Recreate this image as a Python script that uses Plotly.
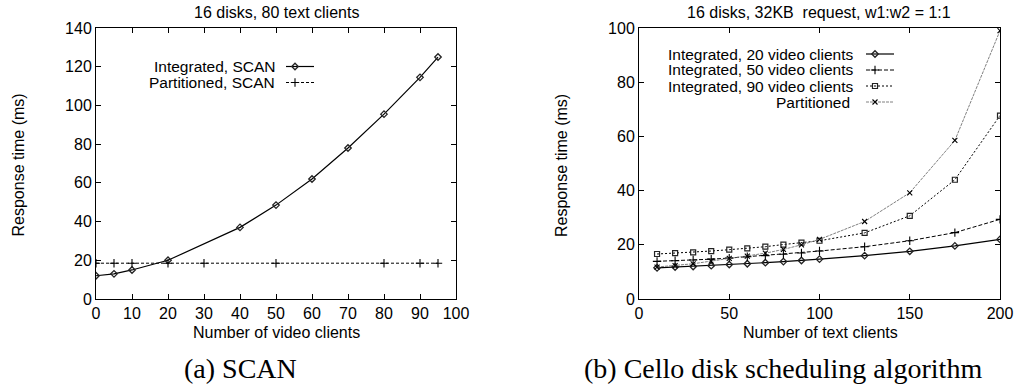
import plotly.graph_objects as go

# ---- Data: panel (a) SCAN ----
video_clients_int = [0, 5, 10, 20, 40, 50, 60, 70, 80, 90, 95]
integrated_scan = [12, 13, 15, 20, 37, 48.5, 62, 78, 95.5, 114.5, 125]
video_clients_part = [0, 5, 10, 20, 30, 50, 80, 90, 95]
partitioned_scan = [18.5, 18.5, 18.5, 18.5, 18.5, 18.5, 18.5, 18.5, 18.5]

# ---- Data: panel (b) Cello ----
text_clients = [10, 20, 30, 40, 50, 60, 70, 80, 90, 100, 125, 150, 175, 200]
int_20_video = [11.5, 11.8, 12.0, 12.3, 12.7, 13.0, 13.4, 13.8, 14.2, 14.7, 16.0, 17.6, 19.6, 22.0]
int_50_video = [13.9, 14.1, 14.4, 14.7, 15.1, 15.6, 16.0, 16.5, 17.0, 17.7, 19.3, 21.5, 24.5, 29.4]
int_90_video = [16.6, 16.9, 17.2, 17.7, 18.2, 18.7, 19.3, 20.1, 20.8, 21.5, 24.4, 30.7, 44.0, 67.7]
partitioned_cello = [11.8, 12.3, 13.0, 14.0, 15.0, 15.8, 16.9, 18.3, 20.0, 22.0, 28.6, 39.2, 58.5, 99.0]

left_ticks_x = list(range(0, 101, 10))
left_ticks_y = list(range(0, 141, 20))
right_ticks_x = [0, 50, 100, 150, 200]
right_ticks_y = [0, 20, 40, 60, 80, 100]

W, H = 1015, 386
SANS = "Liberation Sans, Arial, sans-serif"
SERIF = "Liberation Serif, Times New Roman, serif"

def px_x(p):
    return p / W

def px_y(p):
    return 1 - p / H

# series styles
left_series = [
    ("Integrated, SCAN", video_clients_int, integrated_scan,
     dict(color="black", width=1.2, dash="solid"),
     dict(symbol="diamond-open", size=5, color="#222222", line=dict(width=1.3))),
    ("Partitioned, SCAN", video_clients_part, partitioned_scan,
     dict(color="black", width=1, dash="3px,2px"),
     dict(symbol="cross-thin-open", size=6, color="black", line=dict(width=1.1))),
]
right_series = [
    ("Integrated, 20 video clients", text_clients, int_20_video,
     dict(color="black", width=1.2, dash="solid"),
     dict(symbol="diamond-open", size=5, color="#222222", line=dict(width=1.3))),
    ("Integrated, 50 video clients", text_clients, int_50_video,
     dict(color="black", width=1, dash="4px,2px"),
     dict(symbol="cross-thin-open", size=6, color="black", line=dict(width=1.1))),
    ("Integrated, 90 video clients", text_clients, int_90_video,
     dict(color="black", width=1, dash="2px,2px"),
     dict(symbol="square-open", size=5, color="#222222", line=dict(width=1.2))),
    ("Partitioned", text_clients, partitioned_cello,
     dict(color="#808080", width=1, dash="3px,1px"),
     dict(symbol="x-thin-open", size=5, color="black", line=dict(width=1.1))),
]

fig = go.Figure()

for name, xs, ys, ln, mk in left_series:
    fig.add_trace(go.Scatter(x=xs, y=ys, mode="lines+markers", name=name,
                             line=ln, marker=mk, xaxis="x", yaxis="y",
                             showlegend=False))
for name, xs, ys, ln, mk in right_series:
    fig.add_trace(go.Scatter(x=xs, y=ys, mode="lines+markers", name=name,
                             line=ln, marker=mk, xaxis="x2", yaxis="y2",
                             showlegend=False))

annotations = []
left_dom_x = [px_x(96), px_x(456)]
right_dom_x = [px_x(639), px_x(1000)]
dom_y = [px_y(299), px_y(28)]
LEG_FONT = 15.5

def leg_rows(series, text_right, rows_y, sample_x0, sample_x1, marker_x, xa, ya, dom_x):
    x0p, x1p = dom_x[0] * W, dom_x[1] * W
    def fx(p):
        return (p - x0p) / (x1p - x0p)
    def fy(p):
        return (299 - p) / (299 - 28)
    for i, (name, xs, ys, ln, mk) in enumerate(series):
        yp = rows_y[i]
        annotations.append(dict(text=name, x=text_right[i] / W, y=px_y(yp), xref="paper", yref="paper",
                                xanchor="right", yanchor="middle", showarrow=False,
                                font=dict(family=SANS, size=LEG_FONT, color="black")))
        fig.add_trace(go.Scatter(x=[fx(sample_x0), fx(sample_x1)], y=[fy(yp), fy(yp)],
                                 mode="lines", line=ln, xaxis=xa, yaxis=ya,
                                 showlegend=False, hoverinfo="skip"))
        fig.add_trace(go.Scatter(x=[fx(marker_x)], y=[fy(yp)], mode="markers",
                                 marker=mk, xaxis=xa, yaxis=ya,
                                 showlegend=False, hoverinfo="skip"))

leg_rows(left_series, [277, 277], [66.5, 82.5], 286, 314, 295, "x3", "y3", left_dom_x)
leg_rows(right_series, [856, 856, 856, 852], [54, 70, 86, 102], 866, 894, 875, "x4", "y4", right_dom_x)

def text_ann(text, x, y, size, family=SANS, angle=0):
    annotations.append(dict(text=text, x=px_x(x), y=px_y(y), xref="paper", yref="paper",
                            xanchor="center", yanchor="middle", showarrow=False, textangle=angle,
                            font=dict(family=family, size=size, color="black")))

text_ann("16 disks, 80 text clients", 276, 12, 16)
text_ann("16 disks, 32KB&nbsp;&nbsp;request, w1:w2 = 1:1", 819, 12, 16)
text_ann("Number of video clients", 276, 332, 16)
text_ann("Number of text clients", 820, 332, 16)
text_ann("Response time (ms)", 17.5, 165, 16, angle=-90)
text_ann("Response time (ms)", 561, 166, 16, angle=-90)
text_ann("(a) SCAN", 240, 368, 28, family=SERIF)
text_ann("(b) Cello disk scheduling algorithm", 783, 368, 28, family=SERIF)

axis_common = dict(showgrid=False, zeroline=False, showline=True, linecolor="black",
                   linewidth=1, mirror="ticks", ticks="inside", ticklen=5,
                   tickcolor="black", tickwidth=1, automargin=False,
                   tickfont=dict(family=SANS, size=16, color="black"))

fig.update_layout(
    width=W, height=H,
    margin=dict(l=0, r=0, t=0, b=0, pad=0, autoexpand=False),
    paper_bgcolor="white", plot_bgcolor="white",
    showlegend=False,
    xaxis=dict(domain=left_dom_x, range=[0, 100], tickvals=left_ticks_x, anchor="y", **axis_common),
    yaxis=dict(domain=dom_y, range=[0, 140], tickvals=left_ticks_y, anchor="x", **axis_common),
    xaxis2=dict(domain=right_dom_x, range=[0, 200], tickvals=right_ticks_x, anchor="y2", **axis_common),
    yaxis2=dict(domain=dom_y, range=[0, 100], tickvals=right_ticks_y, anchor="x2", **axis_common),
    xaxis3=dict(overlaying="x", range=[0, 1], visible=False, anchor="y3"),
    yaxis3=dict(overlaying="y", range=[0, 1], visible=False, anchor="x3"),
    xaxis4=dict(overlaying="x2", range=[0, 1], visible=False, anchor="y4"),
    yaxis4=dict(overlaying="y2", range=[0, 1], visible=False, anchor="x4"),
    annotations=annotations,
)

fig.write_html("out.html", config={"displayModeBar": False},
               post_script="document.body.style.margin='0px';")
